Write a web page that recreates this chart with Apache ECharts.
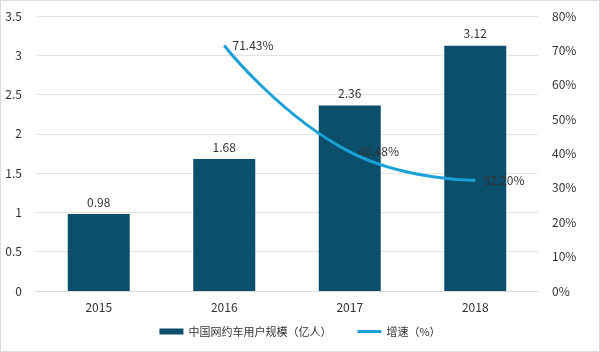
<!DOCTYPE html>
<html><head><meta charset="utf-8">
<script src="https://cdn.jsdelivr.net/npm/echarts@6/dist/echarts.min.js"></script>
<style>html,body{margin:0;padding:0;background:#fff}#c{width:600px;height:352px;box-sizing:border-box;border:1px solid #dcdcdc}</style>
</head><body><div id="c"></div>
<script>
const categories = ['2015','2016','2017','2018'];
const users = [0.98, 1.68, 2.36, 3.12];
const growth = [null, 71.43, 40.48, 32.20];
const barName = '中国网约车用户规模（亿人）';
const lineName = '增速（%）';
const chart = echarts.init(document.getElementById('c'));
const font = '"Noto Sans CJK SC","Microsoft YaHei",sans-serif';
chart.setOption({
  animation:false,
  textStyle:{fontFamily:font},
  grid:{left:35,right:61,top:15,bottom:60,containLabel:false},
  legend:{bottom:9,left:'center',itemGap:26,itemWidth:24,itemHeight:6,
    textStyle:{fontSize:11,color:'#333',fontFamily:font},
    data:[{name:barName,icon:'rect'},{name:lineName,icon:'path://M0,0h24v3h-24z',itemStyle:{color:'#1ba1d8',opacity:1}}]},
  xAxis:{type:'category',data:categories,
    axisLine:{lineStyle:{color:'#d9d9d9'}},axisTick:{show:false},
    axisLabel:{color:'#333',fontSize:12,margin:10}},
  yAxis:[
    {type:'value',min:0,max:3.5,interval:0.5,axisLine:{show:false},axisTick:{show:false},
     splitLine:{lineStyle:{color:'#e3e3e3'}},axisLabel:{color:'#333',fontSize:12,margin:14}},
    {type:'value',min:0,max:80,interval:10,axisLine:{show:false},axisTick:{show:false},
     splitLine:{show:false},axisLabel:{color:'#333',fontSize:12,margin:14,formatter:'{value}%'}}
  ],
  series:[
    {name:barName,type:'bar',data:users,barWidth:62,itemStyle:{color:'#0b4f6c'},
     label:{show:true,position:'top',color:'#333',fontSize:12,distance:6}},
    {name:lineName,type:'line',yAxisIndex:1,data:growth,smooth:true,
     symbol:'circle',symbolSize:0.5,showSymbol:true,
     lineStyle:{color:'#1ba1d8',width:3},itemStyle:{color:'#1ba1d8'},
     label:{show:true,position:'right',color:'#333',fontSize:12,distance:8,
       formatter:p=>p.value.toFixed(2)+'%'}}
  ]
});
</script></body></html>
